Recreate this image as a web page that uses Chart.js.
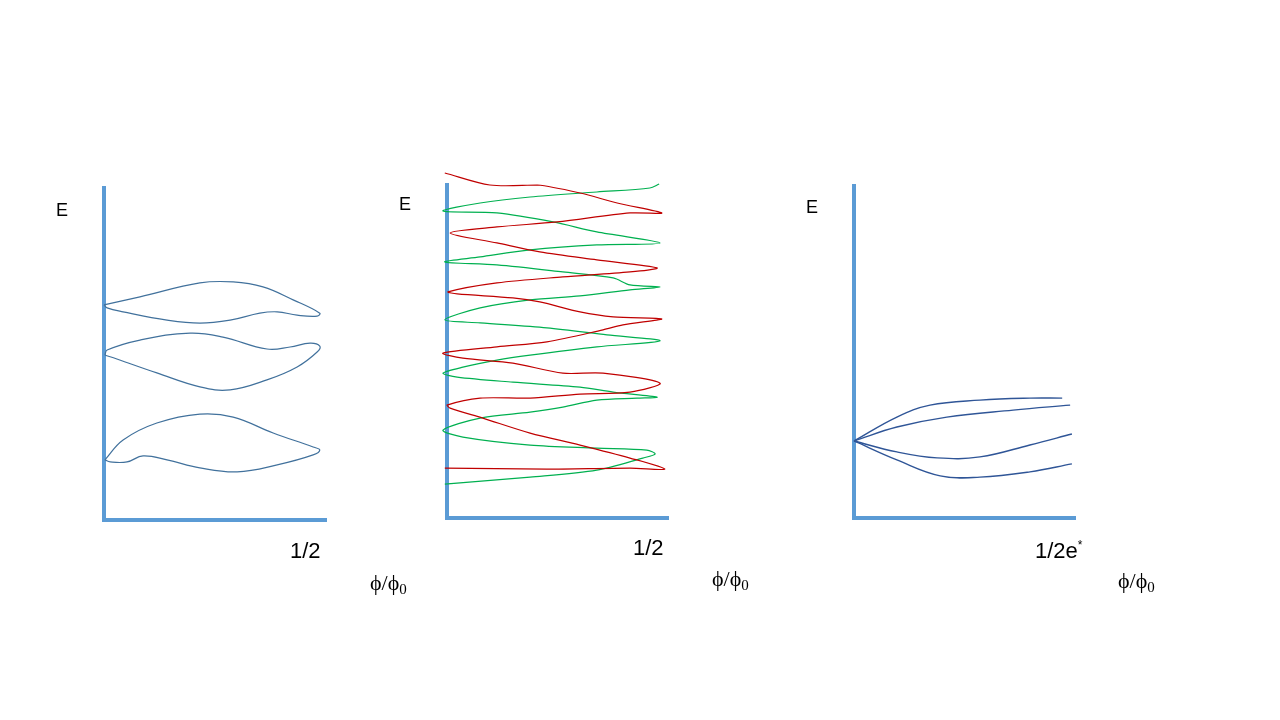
<!DOCTYPE html>
<html>
<head>
<meta charset="utf-8">
<script src="https://cdn.jsdelivr.net/npm/chart.js@4.4.1/dist/chart.umd.min.js"></script>
<style>
body { margin: 0; width: 1280px; height: 720px; background: #fff; position: relative; overflow: hidden;
       font-family: "Liberation Sans", Arial, sans-serif; }
canvas { position: absolute; }
.lbl { position: absolute; color: #000; line-height: 1; font-size: 22px; white-space: nowrap; }
.e { font-size: 18px; }
.phi { font-family: "Liberation Serif", "Times New Roman", serif; font-size: 22px; }
.phi sub { font-size: 15px; vertical-align: -4px; }
sup { font-size: 12px; vertical-align: 9px; }
</style>
</head>
<body>
<canvas id="p1"></canvas>
<canvas id="p2"></canvas>
<canvas id="p3"></canvas>

<div class="lbl e" style="left:56px;top:201px">E</div>
<div class="lbl" style="left:290px;top:540px">1/2</div>
<div class="lbl phi" style="left:370px;top:572px">ϕ/ϕ<sub>0</sub></div>

<div class="lbl e" style="left:399px;top:195px">E</div>
<div class="lbl" style="left:633px;top:537px">1/2</div>
<div class="lbl phi" style="left:712px;top:568px">ϕ/ϕ<sub>0</sub></div>

<div class="lbl e" style="left:806px;top:198px">E</div>
<div class="lbl" style="left:1035px;top:539px">1/2e<sup>*</sup></div>
<div class="lbl phi" style="left:1118px;top:570px">ϕ/ϕ<sub>0</sub></div>

<script>
// x = phi/phi0 (0 .. 1/2), y = E (arbitrary units 0 .. 100)

// panel 1: three closed bands
const band1 = [[0.00,64.8],[0.081,67.2],[0.216,71.4],[0.291,71.7],[0.358,70.2],[0.426,66.3],[0.486,62.3],
  [0.480,61.4],[0.435,61.7],[0.390,62.7],[0.351,62.3],[0.284,60.2],[0.216,59.3],[0.142,60.2],[0.043,62.7],
  [0.007,63.9],[0.00,64.8]];
const band2 = [[0.002,49.7],[0.007,51.2],[0.081,54.2],[0.194,56.3],[0.268,55.1],[0.367,51.5],[0.419,52.1],
  [0.464,53.3],[0.486,52.4],[0.480,50.6],[0.435,46.1],[0.367,42.2],[0.284,39.2],[0.216,40.1],[0.119,44.3],
  [0.029,48.5],[0.002,49.7]];
const band3 = [[0.002,18.1],[0.043,24.1],[0.119,29.2],[0.216,31.9],[0.291,31.0],[0.381,26.2],[0.471,22.0],
  [0.486,21.1],[0.471,19.6],[0.390,16.6],[0.300,14.5],[0.216,15.7],[0.142,18.1],[0.088,19.3],[0.052,17.5],
  [0.014,17.5],[0.002,18.1]];

// panel 2: two zig-zag level sets
const redLevels = [[-0.005,103.6],[0.097,100.0],[0.204,100.0],[0.301,97.6],[0.385,94.6],[0.486,91.6],
  [0.414,91.6],[0.249,88.9],[0.113,87.4],[0.007,85.6],[0.113,82.6],[0.210,79.9],[0.339,77.5],[0.475,75.1],
  [0.414,73.9],[0.262,72.4],[0.113,70.6],[0.002,67.9],[0.023,67.3],[0.149,66.1],[0.210,64.9],[0.301,61.9],
  [0.376,60.4],[0.486,59.8],[0.398,58.0],[0.353,56.5],[0.226,52.9],[0.113,51.4],[-0.009,49.5],[0.036,48.0],
  [0.149,46.5],[0.262,43.5],[0.353,43.5],[0.482,40.5],[0.414,37.8],[0.301,37.2],[0.188,36.0],[0.075,36.0],
  [0.000,33.9],[0.007,33.0],[0.081,30.0],[0.188,25.5],[0.301,21.9],[0.414,18.0],[0.493,14.7],[0.414,15.0],
  [0.226,14.7],[-0.005,15.0]];
const greenLevels = [[0.480,100.3],[0.459,99.1],[0.339,97.9],[0.188,96.4],[0.075,94.6],[-0.009,92.2],
  [0.113,91.6],[0.240,88.9],[0.339,85.9],[0.482,82.6],[0.339,82.0],[0.188,80.5],[0.075,78.4],[-0.005,76.9],
  [0.113,76.0],[0.262,73.9],[0.376,72.1],[0.414,70.0],[0.482,69.4],[0.414,68.5],[0.301,66.7],[0.188,65.5],
  [0.075,63.1],[-0.005,59.5],[0.075,58.6],[0.226,57.1],[0.362,55.0],[0.482,53.2],[0.339,51.4],[0.188,48.9],
  [0.113,47.4],[0.036,45.3],[-0.009,43.5],[0.023,42.3],[0.149,40.8],[0.301,39.3],[0.376,37.8],[0.475,36.3],
  [0.430,36.0],[0.339,35.4],[0.262,33.3],[0.188,31.8],[0.075,30.0],[-0.009,26.4],[0.036,24.3],[0.188,21.9],
  [0.339,21.0],[0.452,20.4],[0.471,19.2],[0.443,18.0],[0.339,14.4],[0.188,12.3],[-0.005,10.2]];

// panel 3: four levels fanning out from one point
const levelA = [[0.0,23.2],[0.097,30.4],[0.172,34.0],[0.285,35.5],[0.398,36.1],[0.471,36.1]];
const levelB = [[0.0,23.2],[0.097,27.4],[0.210,30.4],[0.360,32.5],[0.489,34.0]];
const levelC = [[0.0,23.2],[0.097,19.9],[0.188,18.1],[0.285,18.4],[0.398,22.0],[0.493,25.3]];
const levelD = [[0.0,23.2],[0.097,17.5],[0.195,12.7],[0.285,12.3],[0.398,13.9],[0.493,16.3]];

const axisBlue = "#5B9BD5";

function line(pts, color, width, tension) {
    return {
        data: pts.map(function (p) { return { x: p[0], y: p[1] }; }),
        showLine: true,
        borderColor: color,
        borderWidth: width,
        pointRadius: 0,
        tension: tension,
        clip: false,
        fill: false,
    };
}

function sketch(id, box, datasets) {
    const pad = 40;
    const cv = document.getElementById(id);
    cv.width = box.w + 2 * pad;
    cv.height = box.h + 2 * pad;
    cv.style.left = (box.x - pad) + "px";
    cv.style.top = (box.y - pad) + "px";
    const axis = function (min, max) {
        return {
            type: "linear",
            min: min,
            max: max,
            grid: { display: false, drawTicks: false },
            ticks: { display: false },
            border: { display: true, color: axisBlue, width: 4 },
        };
    };
    new Chart(cv, {
        type: "scatter",
        data: { datasets: datasets },
        options: {
            responsive: false,
            animation: false,
            layout: { padding: pad },
            plugins: { legend: { display: false }, tooltip: { enabled: false } },
            scales: { x: axis(0, 0.5), y: axis(0, 100) },
        },
    });
}

sketch("p1", { x: 104, y: 188, w: 222, h: 332 }, [
    line(band1, "#41719C", 1.2, 0.4),
    line(band2, "#41719C", 1.2, 0.4),
    line(band3, "#41719C", 1.2, 0.4),
]);

sketch("p2", { x: 447, y: 185, w: 221, h: 333 }, [
    line(redLevels, "#C00000", 1.2, 0.3),
    line(greenLevels, "#00B050", 1.2, 0.3),
]);

sketch("p3", { x: 854, y: 186, w: 221, h: 332 }, [
    line(levelA, "#2F5597", 1.4, 0.4),
    line(levelB, "#2F5597", 1.4, 0.4),
    line(levelC, "#2F5597", 1.4, 0.4),
    line(levelD, "#2F5597", 1.4, 0.4),
]);
</script>
</body>
</html>
